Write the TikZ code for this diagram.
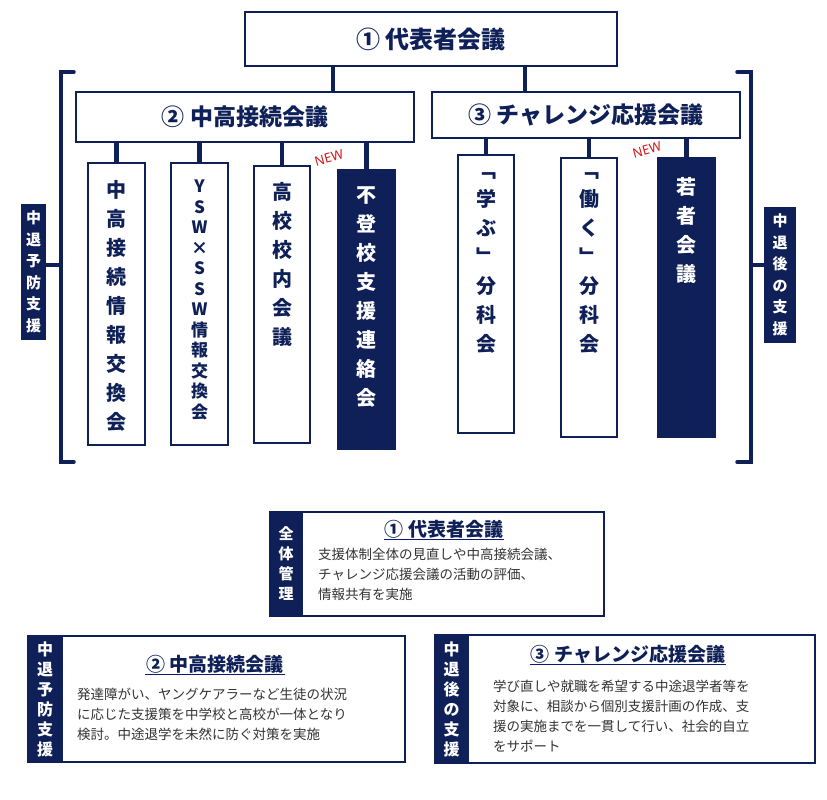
\documentclass[tikz,border=0pt]{standalone}
\usepackage{fontspec}
\setmainfont{Noto Sans CJK JP}
\newfontfamily\latinf{Noto Sans}
\definecolor{navy}{HTML}{0E2057}
\definecolor{newred}{HTML}{D01818}
\newcommand{\fs}[2]{\fontsize{#1}{#2}\selectfont}
\begin{document}
\begin{tikzpicture}[x=1pt,y=-1pt,
  wbox/.style={draw=navy,line width=1.8pt,fill=white,text=navy,inner sep=0pt},
  dbox/.style={draw=navy,line width=1.8pt,fill=navy,text=white,inner sep=0pt},
  conn/.style={navy,line width=4.5pt},
  brk/.style={navy,line width=3.5pt,line cap=round},
  head/.style={font=\fs{23}{26}\bfseries,text=navy},
  vtx/.style={font=\fs{20}{29}\bfseries,align=center,inner sep=0pt},
  body/.style={font=\fs{13.5}{20},text=black!80,align=left,anchor=north west,inner sep=0pt},
  newlbl/.style={font=\latinf\fs{13}{14},text=newred,rotate=15,inner sep=0pt}]
\useasboundingbox (0,0) rectangle (827,800);
% top
\node[wbox,minimum width=372pt,minimum height=54pt] (top) at (431,39) {};
\node[head,font=\fs{24}{26}\bfseries] at (top) {① 代表者会議};
\node[wbox,minimum width=338pt,minimum height=50pt] (b2) at (245,117) {};
\node[head] at (b2) {② 中高接続会議};
\node[wbox,minimum width=308pt,minimum height=46pt] (b3) at (586,115) {};
\node[head] at (b3) {③ チャレンジ応援会議};
\coordinate (c1) at (333,0); \coordinate (c2) at (525,0);
\draw[conn] (b2.north -| c1) -- (top.south -| c1);
\draw[conn] (b3.north -| c2) -- (top.south -| c2);
% left sub boxes
\node[wbox,minimum width=57pt,minimum height=282pt] (l1) at (116.5,304) {};
\node[vtx,text=navy,anchor=north] at (116.5,180) {中\\高\\接\\続\\情\\報\\交\\換\\会};
\node[wbox,minimum width=57pt,minimum height=282pt] (l2) at (199.5,304) {};
\node[vtx,text=navy,anchor=north,font=\fs{17}{20.5}\bfseries] at (199.5,180) {Y\\S\\W\\×\\S\\S\\W\\情\\報\\交\\換\\会};
\node[wbox,minimum width=56pt,minimum height=277pt] (l3) at (282,304.5) {};
\node[vtx,text=navy,anchor=north] at (282,182) {高\\校\\校\\内\\会\\議};
\node[dbox,minimum width=57pt,minimum height=279pt] (l4) at (366.5,309.5) {};
\node[vtx,text=white,anchor=north] at (366.5,186) {不\\登\\校\\支\\援\\連\\絡\\会};
\foreach \n in {l1,l2,l3,l4} \draw[conn] (\n.north) -- (\n.north |- b2.south);
\node[newlbl] (new1) at (329,158) {NEW};
% right sub boxes
\node[wbox,minimum width=56pt,minimum height=278pt] (r1) at (486,294) {};
\node[vtx,text=navy,anchor=north] at (486,172) {﹁\\学\\ぶ\\﹂\\分\\科\\会};
\node[wbox,minimum width=56pt,minimum height=279pt] (r2) at (589,297.5) {};
\node[vtx,text=navy,anchor=north] at (589,172) {﹁\\働\\く\\﹂\\分\\科\\会};
\node[dbox,minimum width=57pt,minimum height=279pt] (r3) at (686.5,297.5) {};
\node[vtx,text=white,anchor=north] at (686.5,177) {若\\者\\会\\議};
\foreach \n in {r1,r2,r3} \draw[conn] (\n.north) -- (\n.north |- b3.south);
\node[newlbl] (new2) at (647,150) {NEW};
% brackets and side labels
\node[dbox,minimum width=23pt,minimum height=135pt] (sl) at (33.5,272) {};
\node[vtx,text=white,font=\fs{15}{21.5}\bfseries] at (sl) {中\\退\\予\\防\\支\\援};
\node[dbox,minimum width=30pt,minimum height=134pt] (sr) at (780,275) {};
\node[vtx,text=white,font=\fs{15}{21.5}\bfseries] at (sr) {中\\退\\後\\の\\支\\援};
\coordinate (bl) at (61,265); \coordinate (br) at (751,265);
\draw[brk] (74,72) -- (61,72) -- (61,462) -- (74,462);
\draw[brk] (bl) -- (sl.east |- bl);
\draw[brk] (737,72) -- (751,72) -- (751,462) -- (737,462);
\draw[brk] (br) -- (sr.west |- br);
% bottom box A
\node[wbox,minimum width=334pt,minimum height=104pt] (ba) at (437,564) {};
\node[dbox,minimum width=32pt,minimum height=104pt] (sa) at (286,564) {};
\node[vtx,text=white,font=\fs{15}{20}\bfseries] at (sa) {全\\体\\管\\理};
\node[head,font=\fs{19}{21}\bfseries,inner sep=1pt] (ta) at (444,529) {① 代表者会議};
\draw[navy!80!blue,line width=1pt] (ta.south west) -- (ta.south east);
\node[body] at (318,548) {支援体制全体の見直しや中高接続会議、\\チャレンジ応援会議の活動の評価、\\情報共有を実施};
% bottom box B
\node[wbox,minimum width=377pt,minimum height=126pt] (bb) at (216.5,699) {};
\node[dbox,minimum width=34pt,minimum height=126pt] (sb) at (45,699) {};
\node[vtx,text=white,font=\fs{16}{20}\bfseries] at (sb) {中\\退\\予\\防\\支\\援};
\node[head,font=\fs{19}{21}\bfseries,inner sep=1pt] (tb) at (215,664) {② 中高接続会議};
\draw[navy!80!blue,line width=1pt] (tb.south west) -- (tb.south east);
\node[body] at (77,688) {発達障がい、ヤングケアラーなど生徒の状況\\に応じた支援策を中学校と高校が一体となり\\検討。中途退学を未然に防ぐ対策を実施};
% bottom box C
\node[wbox,minimum width=380pt,minimum height=128pt] (bc) at (625,699) {};
\node[dbox,minimum width=33pt,minimum height=128pt] (sc) at (451.5,699) {};
\node[vtx,text=white,font=\fs{16}{20}\bfseries] at (sc) {中\\退\\後\\の\\支\\援};
\node[head,font=\fs{19}{21}\bfseries,inner sep=1pt] (tc) at (628,654) {③ チャレンジ応援会議};
\draw[navy!80!blue,line width=1pt] (tc.south west) -- (tc.south east);
\node[body] at (493,680) {学び直しや就職を希望する中途退学者等を\\対象に、相談から個別支援計画の作成、支\\援の実施までを一貫して行い、社会的自立\\をサポート};
\end{tikzpicture}
\end{document}
